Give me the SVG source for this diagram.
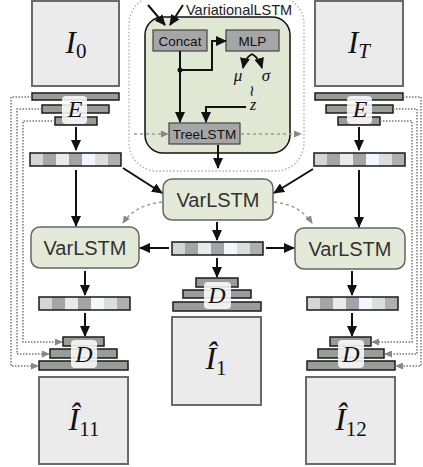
<svg xmlns="http://www.w3.org/2000/svg" width="423" height="467" viewBox="0 0 423 467">
<style>
.img{fill:#ebebeb;stroke:#6a6a6a;stroke-width:2}
.bar{fill:#9a9c9a;stroke:#1a1a1a;stroke-width:1.5}
.lbl{fill:#fff;fill-opacity:0.85}
.vec{stroke:#1a1a1a;stroke-width:1.5;fill:none}
.var{fill:#e3ead8;stroke:#666;stroke-width:1.5}
.box{fill:#a6a6a6;stroke:#444;stroke-width:1.2}
.sans{font-family:"Liberation Sans",Arial,sans-serif;fill:#222}
.vt{font-family:"Liberation Sans",Arial,sans-serif;font-size:20px;fill:#333;text-anchor:middle}
.bt{font-family:"Liberation Sans",Arial,sans-serif;font-size:13.5px;fill:#111;text-anchor:middle}
.m{font-family:"Liberation Serif","Times New Roman",serif;font-style:italic;fill:#111}
.sub{font-family:"Liberation Serif","Times New Roman",serif;font-style:normal}
.arr{stroke:#111;stroke-width:2;fill:none;marker-end:url(#ah)}
.dot{stroke:#777;stroke-width:1.5;stroke-dasharray:1.5 1.5;fill:none;marker-end:url(#gh)}
.dash{stroke:#999;stroke-width:1.5;stroke-dasharray:3 3;fill:none;marker-end:url(#gh)}
</style>
<defs>
<marker id="ah" markerUnits="userSpaceOnUse" markerWidth="11" markerHeight="10" refX="10" refY="5" orient="auto"><path d="M0,0 L11,5 L0,10 z" fill="#111"/></marker>
<marker id="gh" markerUnits="userSpaceOnUse" markerWidth="8" markerHeight="7" refX="7" refY="3.5" orient="auto"><path d="M0,0 L8,3.5 L0,7 z" fill="#888"/></marker>
<g id="vecpat">
<rect x="0" y="0" width="13" height="13" fill="#d4d5d7"/>
<rect x="13" y="0" width="13" height="13" fill="#a4a5a7"/>
<rect x="26" y="0" width="13" height="13" fill="#e8ebed"/>
<rect x="39" y="0" width="13" height="13" fill="#a0a4a8"/>
<rect x="52" y="0" width="13" height="13" fill="#f3f6fc"/>
<rect x="65" y="0" width="13" height="13" fill="#dcdde0"/>
<rect x="78" y="0" width="13" height="13" fill="#afb0ae"/>
<rect x="0" y="0" width="91" height="13" class="vec"/>
</g>
</defs>
<rect width="423" height="467" fill="#fff"/>

<!-- outer dotted region of the variational module -->
<rect x="129" y="-4" width="175" height="175" rx="28" fill="none" stroke="#aaa" stroke-width="1.3" stroke-dasharray="1.5 2"/>

<g id="variationalLSTM">
<rect x="145" y="17" width="145" height="136" rx="18" fill="#e0e8d3" stroke="#111" stroke-width="1.5"/>
<text x="186" y="15" class="sans" font-size="14.5">VariationalLSTM</text>
</g>
<g id="concat"><rect x="153" y="30" width="54" height="21" class="box"/><text x="180" y="45.5" class="bt">Concat</text></g>
<g id="mlp"><rect x="226" y="30" width="53" height="21" class="box"/><text x="252.5" y="45.5" class="bt">MLP</text></g>
<g id="treelstm"><rect x="169" y="123" width="71" height="21" class="box"/><text x="204.5" y="138.5" class="bt">TreeLSTM</text></g>
<g id="latent">
<text x="238" y="81" class="m" font-size="17" text-anchor="middle">μ</text>
<text x="266" y="81" class="m" font-size="17" text-anchor="middle">σ</text>
<text x="0" y="0" transform="translate(252,91) rotate(90)" font-family="Liberation Sans,sans-serif" font-size="19" text-anchor="middle" dominant-baseline="central" fill="#111">~</text>
<text x="253" y="110" class="m" font-size="16" text-anchor="middle">z</text>
</g>

<g id="I0"><rect x="32" y="1" width="87" height="85" class="img"/><text x="76" y="53" class="m" font-size="31" text-anchor="middle">I<tspan class="sub" font-size="21" dy="5">0</tspan></text></g>
<g id="IT"><rect x="315" y="1" width="88" height="85" class="img"/><text x="359" y="53" class="m" font-size="31" text-anchor="middle">I<tspan font-size="21" dy="5">T</tspan></text></g>

<g id="E0">
<rect x="32" y="93" width="87" height="7" class="bar"/>
<rect x="42" y="105" width="67" height="8" class="bar"/>
<rect x="55" y="117" width="42" height="8" class="bar"/>
<rect x="62" y="96" width="25" height="28" rx="4" class="lbl"/>
<text x="75" y="117" class="m" font-size="24" text-anchor="middle">E</text>
</g>
<g id="ET">
<rect x="315" y="93" width="88" height="7" class="bar"/>
<rect x="326" y="105" width="67" height="8" class="bar"/>
<rect x="338" y="117" width="42" height="8" class="bar"/>
<rect x="347" y="96" width="25" height="28" rx="4" class="lbl"/>
<text x="360" y="117" class="m" font-size="24" text-anchor="middle">E</text>
</g>

<g id="vecL"><use href="#vecpat" x="30" y="153"/></g>
<g id="vecR"><use href="#vecpat" x="314" y="153"/></g>
<g id="vecC"><use href="#vecpat" x="172" y="242"/></g>
<g id="vecL2"><use href="#vecpat" x="39" y="297"/></g>
<g id="vecR2"><use href="#vecpat" x="307" y="297"/></g>

<g id="varC"><rect x="163" y="179" width="110" height="41" rx="9" class="var"/><text x="218" y="206.5" class="vt">VarLSTM</text></g>
<g id="varL"><rect x="31" y="227" width="108" height="41" rx="9" class="var"/><text x="85" y="254.5" class="vt">VarLSTM</text></g>
<g id="varR"><rect x="295" y="228" width="110" height="41" rx="9" class="var"/><text x="350" y="255.5" class="vt">VarLSTM</text></g>

<g id="DC">
<rect x="196" y="278" width="42" height="9" class="bar"/>
<rect x="183" y="290" width="68" height="8" class="bar"/>
<rect x="173" y="302" width="88" height="9" class="bar"/>
<rect x="204" y="282" width="27" height="27" rx="4" class="lbl"/>
<text x="217" y="303" class="m" font-size="24" text-anchor="middle">D</text>
</g>
<g id="DL">
<rect x="63" y="337" width="41" height="9" class="bar"/>
<rect x="50" y="349" width="67" height="9" class="bar"/>
<rect x="39" y="361" width="89" height="9" class="bar"/>
<rect x="71" y="340" width="26" height="28" rx="4" class="lbl"/>
<text x="84" y="362" class="m" font-size="24" text-anchor="middle">D</text>
</g>
<g id="DR">
<rect x="330" y="337" width="41" height="9" class="bar"/>
<rect x="318" y="349" width="66" height="9" class="bar"/>
<rect x="307" y="361" width="88" height="9" class="bar"/>
<rect x="338" y="340" width="26" height="28" rx="4" class="lbl"/>
<text x="351" y="362" class="m" font-size="24" text-anchor="middle">D</text>
</g>

<g id="I1"><rect x="172" y="317" width="89" height="88" class="img"/><text x="216" y="369" class="m" font-size="32" text-anchor="middle">Î<tspan class="sub" font-size="21" dy="6">1</tspan></text></g>
<g id="I11"><rect x="39" y="377" width="89" height="87" class="img"/><text x="84" y="430" class="m" font-size="32" text-anchor="middle">Î<tspan class="sub" font-size="21" dy="6">11</tspan></text></g>
<g id="I12"><rect x="306" y="377" width="89" height="87" class="img"/><text x="351" y="430" class="m" font-size="32" text-anchor="middle">Î<tspan class="sub" font-size="21" dy="6">12</tspan></text></g>

<g id="connectors">
<path class="arr" d="M148,5 L165,25"/>
<path class="arr" d="M183,5 L170,25"/>
<path class="arr" d="M180,51 V122"/>
<circle cx="180" cy="70" r="2.5" fill="#111"/>
<path class="arr" d="M180,70 H212 V41 H226"/>
<path class="arr" d="M252,54 Q245,58 243,68" style="stroke-width:1.8"/>
<path class="arr" d="M252,54 Q259,58 262,68" style="stroke-width:1.8"/>
<path class="arr" d="M246,107 H206 V122"/>
<path class="dash" d="M134,134 H168"/>
<path class="dash" d="M241,134 H301"/>
<path class="arr" d="M218,145 V168"/>

<path class="arr" d="M76,127 V150"/>
<path class="arr" d="M359,127 V150"/>
<path class="arr" d="M76,170 V226"/>
<path class="arr" d="M359,170 V227"/>
<path class="arr" d="M123,168 L162,193"/>
<path class="arr" d="M313,169 L274,193"/>
<path class="dash" d="M162,202 Q135,205 123,223"/>
<path class="dash" d="M274,202 Q300,205 312,223"/>
<path class="arr" d="M217,222 V240"/>
<path class="arr" d="M169,248 H140"/>
<path class="arr" d="M266,248 H294"/>
<path class="arr" d="M217,258 V277"/>
<path class="arr" d="M85,271 V295"/>
<path class="arr" d="M85,313 V336"/>
<path class="arr" d="M352,271 V295"/>
<path class="arr" d="M352,313 V336"/>

<path class="dot" d="M32,97 H11 V366 H38"/>
<path class="dot" d="M42,109 H17 V354 H49"/>
<path class="dot" d="M55,121 H23 V342 H62"/>
<path class="dot" d="M403,97 H421 V366 H396"/>
<path class="dot" d="M393,109 H417 V354 H385"/>
<path class="dot" d="M380,121 H412 V342 H372"/>
</g>
</svg>
